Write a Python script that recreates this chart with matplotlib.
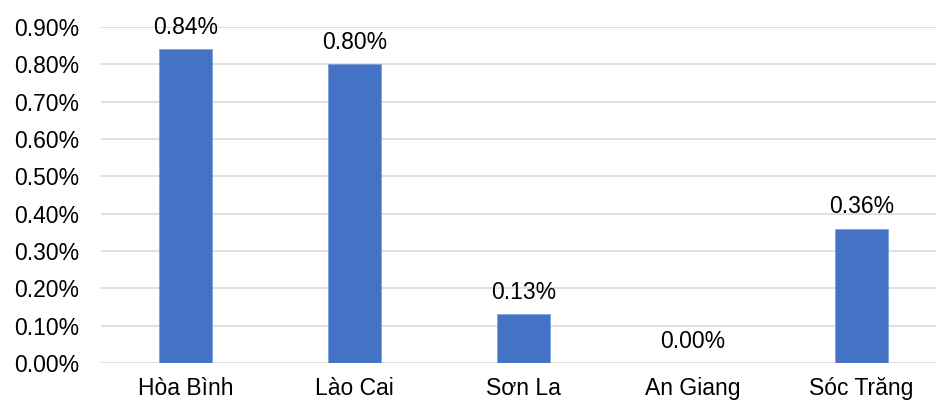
import matplotlib
matplotlib.use("Agg")
import matplotlib.pyplot as plt
from matplotlib.ticker import FuncFormatter

provinces = ["Hòa Bình", "Lào Cai", "Sơn La", "An Giang", "Sóc Trăng"]
rates = [0.84, 0.80, 0.13, 0.00, 0.36]
y_ticks = [0.0, 0.1, 0.2, 0.3, 0.4, 0.5, 0.6, 0.7, 0.8, 0.9]

plt.rcParams["font.family"] = ["Liberation Sans", "DejaVu Sans"]

fig = plt.figure(figsize=(9.36, 4.03), dpi=100)
ax = fig.add_axes([0.108, 0.0993, 0.892, 0.834])

x = list(range(len(provinces)))
ax.bar(x, rates, width=0.315, color="#4472C4", edgecolor="#7E9FD9", linewidth=0.6, zorder=3)

for xi, v in zip(x, rates):
    ax.annotate(f"{v:.2f}%", (xi, v), xytext=(0, 11), textcoords="offset points",
                ha="center", va="baseline", fontsize=16.5, color="#000000", clip_on=False)

ax.set_xlim(-0.5, 4.44)
ax.set_ylim(0, 0.9)
ax.set_yticks(y_ticks)
ax.yaxis.set_major_formatter(FuncFormatter(lambda v, _: f"{v:.2f}%"))
ax.set_xticks(x)
ax.set_xticklabels(provinces)
ax.tick_params(axis="both", length=0, labelsize=16.5, colors="#000000")
ax.tick_params(axis="y", pad=16)
ax.tick_params(axis="x", pad=10)

ax.grid(axis="y", color="#D9D9D9", linewidth=1.2, zorder=0)
for s in ax.spines.values():
    s.set_visible(False)

fig.savefig("out.png", dpi=100)
